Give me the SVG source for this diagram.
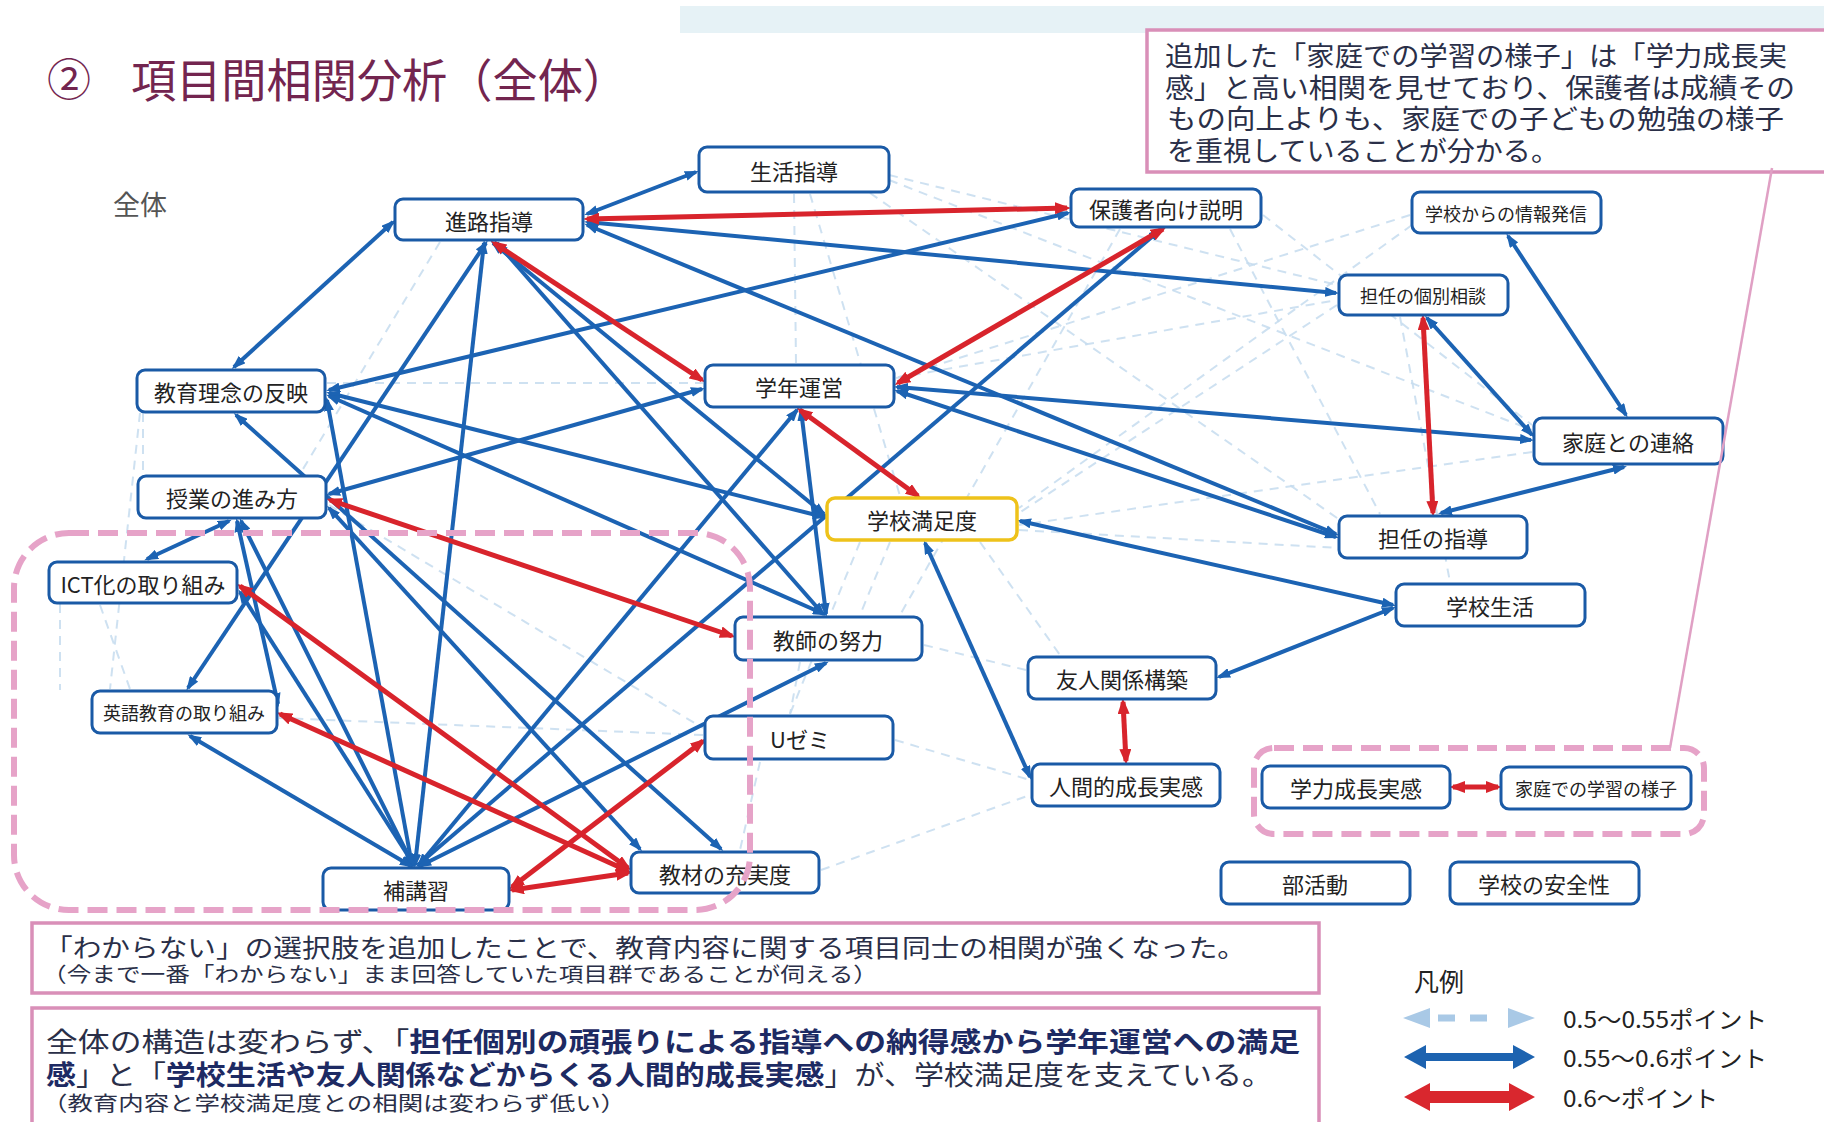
<svg xmlns="http://www.w3.org/2000/svg" width="1824" height="1122" viewBox="0 0 1824 1122">
<defs>
<style>
.jp{font-family:"Noto Sans CJK JP","Noto Sans",sans-serif}
.nb{fill:#fff;stroke:#1a5aa6;stroke-width:3}
.ny{fill:#fff;stroke:#eec21a;stroke-width:3.5}
.nt{font-family:"Noto Sans CJK JP","Noto Sans",sans-serif;font-size:22px;fill:#222;text-anchor:middle;dominant-baseline:central}
.ns{font-size:18px}
.b{stroke:#1c63b3;stroke-width:4;fill:none;marker-start:url(#mb);marker-end:url(#mb)}
.r{stroke:#d8242c;stroke-width:5;fill:none;marker-start:url(#mr);marker-end:url(#mr)}
.f{stroke:#c6dcef;stroke-width:2;stroke-dasharray:9 7;fill:none;opacity:0.85}
.pd{fill:none;stroke:#e6a3c8;stroke-width:6;stroke-dasharray:20 9}
.pb{fill:#fff;stroke:#d98fb8;stroke-width:3.5}
.tx{font-family:"Liberation Sans","Noto Sans CJK JP",sans-serif;fill:#2a2f48;dominant-baseline:central}
.bd{font-weight:700;fill:#1d2a63}
</style>
<marker id="mb" viewBox="0 0 14 10" refX="11" refY="5" markerWidth="14" markerHeight="10" markerUnits="userSpaceOnUse" orient="auto-start-reverse"><path d="M0,0 L14,5 L0,10 z" fill="#1c63b3"/></marker>
<marker id="mr" viewBox="0 0 16 12" refX="12" refY="6" markerWidth="16" markerHeight="12" markerUnits="userSpaceOnUse" orient="auto-start-reverse"><path d="M0,0 L16,6 L0,12 z" fill="#d8242c"/></marker>
</defs>
<rect x="0" y="0" width="1824" height="1122" fill="#fff"/>
<rect x="680" y="6" width="1144" height="27" fill="#e6f2f6"/>

<g id="title">
<text class="jp" x="47" y="77" font-size="44" fill="#73254f" dominant-baseline="central">②</text>
<text class="jp" x="131" y="77" font-size="46" fill="#73254f" dominant-baseline="central" textLength="497" lengthAdjust="spacingAndGlyphs">項目間相関分析（全体）</text>
<text class="jp" x="113" y="203" font-size="27" fill="#555" dominant-baseline="central">全体</text>
</g>

<g id="note-top">
<rect class="pb" x="1147" y="30" width="690" height="142"/>
<text class="tx" font-size="27" x="1165" y="57" textLength="622" lengthAdjust="spacingAndGlyphs">追加した「家庭での学習の様子」は「学力成長実</text>
<text class="tx" font-size="27" x="1165" y="88.5" textLength="630" lengthAdjust="spacingAndGlyphs">感」と高い相関を見せており、保護者は成績その</text>
<text class="tx" font-size="27" x="1167" y="120" textLength="617" lengthAdjust="spacingAndGlyphs">もの向上よりも、家庭での子どもの勉強の様子</text>
<text class="tx" font-size="27" x="1167" y="151.5" textLength="392" lengthAdjust="spacingAndGlyphs">を重視していることが分かる。</text>
</g>

<g id="note-bottom1">
<rect class="pb" x="32" y="923" width="1287" height="70"/>
<text class="tx" font-size="25" x="44" y="948" textLength="1202" lengthAdjust="spacingAndGlyphs">「わからない」の選択肢を追加したことで、教育内容に関する項目同士の相関が強くなった。</text>
<text class="tx" font-size="20.5" x="42" y="974" textLength="836" lengthAdjust="spacingAndGlyphs">（今まで一番「わからない」まま回答していた項目群であることが伺える）</text>
</g>

<g id="note-bottom2">
<rect class="pb" x="32" y="1008" width="1287" height="130"/>
<text class="tx" font-size="27" x="46" y="1043" textLength="1254" lengthAdjust="spacingAndGlyphs">全体の構造は変わらず、「<tspan class="bd">担任個別の頑張りによる指導への納得感から学年運営への満足</tspan></text>
<text class="tx" font-size="27" x="46" y="1076" textLength="1226" lengthAdjust="spacingAndGlyphs"><tspan class="bd">感</tspan>」と「<tspan class="bd">学校生活や友人関係などからくる人間的成長実感</tspan>」が、学校満足度を支えている。</text>
<text class="tx" font-size="20.5" x="42" y="1103" textLength="584" lengthAdjust="spacingAndGlyphs">（教育内容と学校満足度との相関は変わらず低い）</text>
</g>

<g id="connectors">
<g id="weak">
<path class="f" d="M794,194 L796,363"/>
<path class="f" d="M889,180 L1532,430"/>
<path class="f" d="M870,193 L1340,520"/>
<path class="f" d="M889,175 L1337,285"/>
<path class="f" d="M810,194 L900,496"/>
<path class="f" d="M143,413 L143,475"/>
<path class="f" d="M327,383 L703,383"/>
<path class="f" d="M1410,215 L896,378"/>
<path class="f" d="M1412,225 L1019,508"/>
<path class="f" d="M1263,215 L1532,425"/>
<path class="f" d="M1230,229 L1380,514"/>
<path class="f" d="M1337,305 L1019,513"/>
<path class="f" d="M1532,452 L1019,525"/>
<path class="f" d="M1120,229 L900,615"/>
<path class="f" d="M890,542 L860,615"/>
<path class="f" d="M924,645 L1026,670"/>
<path class="f" d="M703,735 L279,718"/>
<path class="f" d="M760,762 L740,850"/>
<path class="f" d="M895,740 L1030,780"/>
<path class="f" d="M100,605 L130,689"/>
<path class="f" d="M140,413 L110,689"/>
<path class="f" d="M800,662 L790,714"/>
<path class="f" d="M329,505 L703,728"/>
<path class="f" d="M1400,317 L1450,582"/>
<path class="f" d="M896,378 L1337,300"/>
<path class="f" d="M860,542 L790,714"/>
<path class="f" d="M980,542 L1060,655"/>
<path class="f" d="M440,242 L300,474"/>
<path class="f" d="M821,870 L1030,795"/>
<path class="f" d="M1019,530 L1339,548"/>
<path class="f" d="M60,604 L60,690"/>
</g>
<g id="mid">
<path class="b" d="M587,214 L696,172"/>
<path class="b" d="M393,222 L234,367"/>
<path class="b" d="M587,222 L1336,293"/>
<path class="b" d="M587,225 L1336,534"/>
<path class="b" d="M329,390 L1068,213"/>
<path class="b" d="M897,387 L1531,440"/>
<path class="b" d="M897,391 L1336,537"/>
<path class="b" d="M1427,318 L1532,435"/>
<path class="b" d="M1508,236 L1626,415"/>
<path class="b" d="M1624,467 L1441,513"/>
<path class="b" d="M1020,521 L1393,605"/>
<path class="b" d="M1393,608 L1219,677"/>
<path class="b" d="M925,543 L1030,777"/>
<path class="b" d="M1160,230 L418,865"/>
<path class="b" d="M229,521 L147,559"/>
<path class="b" d="M237,521 L278,704"/>
<path class="b" d="M241,521 L413,865"/>
<path class="b" d="M486,243 L188,688"/>
<path class="b" d="M484,243 L415,865"/>
<path class="b" d="M493,243 L824,514"/>
<path class="b" d="M497,243 L823,614"/>
<path class="b" d="M329,393 L824,517"/>
<path class="b" d="M329,396 L824,614"/>
<path class="b" d="M327,400 L412,865"/>
<path class="b" d="M236,415 L721,849"/>
<path class="b" d="M329,508 L640,849"/>
<path class="b" d="M329,494 L702,389"/>
<path class="b" d="M797,410 L419,865"/>
<path class="b" d="M801,410 L826,614"/>
<path class="b" d="M826,663 L420,866"/>
<path class="b" d="M240,592 L414,865"/>
<path class="b" d="M190,736 L411,866"/>
</g>
<g id="strong">
<path class="r" d="M587,219 L1067,208"/>
<path class="r" d="M494,243 L702,380"/>
<path class="r" d="M1163,229 L898,383"/>
<path class="r" d="M800,410 L918,496"/>
<path class="r" d="M1423,318 L1433,513"/>
<path class="r" d="M1123,702 L1126,761"/>
<path class="r" d="M1453,787 L1498,787"/>
<path class="r" d="M330,500 L732,636"/>
<path class="r" d="M240,586 L628,868"/>
<path class="r" d="M280,714 L628,871"/>
<path class="r" d="M512,887 L703,741"/>
<path class="r" d="M512,890 L628,873"/>
</g>
</g>

<g id="n-seikatsu"><rect class="nb" x="699" y="147" width="190" height="45" rx="8"/><text class="nt" x="794" y="170">生活指導</text></g>
<g id="n-shinro"><rect class="nb" x="395" y="199" width="188" height="41" rx="8"/><text class="nt" x="489" y="220">進路指導</text></g>
<g id="n-hogosha"><rect class="nb" x="1071" y="189" width="190" height="38" rx="8"/><text class="nt" x="1166" y="208">保護者向け説明</text></g>
<g id="n-joho"><rect class="nb" x="1412" y="192" width="189" height="41" rx="8"/><text class="nt ns" x="1506" y="213">学校からの情報発信</text></g>
<g id="n-kobetsu"><rect class="nb" x="1339" y="275" width="169" height="40" rx="8"/><text class="nt ns" x="1423" y="295">担任の個別相談</text></g>
<g id="n-rinen"><rect class="nb" x="137" y="370" width="188" height="42" rx="8"/><text class="nt" x="231" y="391">教育理念の反映</text></g>
<g id="n-gakunen"><rect class="nb" x="705" y="365" width="189" height="42" rx="8"/><text class="nt" x="799" y="386">学年運営</text></g>
<g id="n-katei"><rect class="nb" x="1534" y="418" width="189" height="46" rx="8"/><text class="nt" x="1628" y="441">家庭との連絡</text></g>
<g id="n-jugyo"><rect class="nb" x="138" y="476" width="188" height="42" rx="8"/><text class="nt" x="232" y="497">授業の進み方</text></g>
<g id="n-manzoku"><rect class="ny" x="827" y="498" width="190" height="42" rx="8"/><text class="nt" x="922" y="519">学校満足度</text></g>
<g id="n-shido"><rect class="nb" x="1339" y="516" width="188" height="42" rx="8"/><text class="nt" x="1433" y="537">担任の指導</text></g>
<g id="n-ict"><rect class="nb" x="49" y="562" width="188" height="41" rx="8"/><text class="nt" x="143" y="583">ICT化の取り組み</text></g>
<g id="n-gakko"><rect class="nb" x="1396" y="584" width="189" height="42" rx="8"/><text class="nt" x="1490" y="605">学校生活</text></g>
<g id="n-kyoshi"><rect class="nb" x="735" y="617" width="187" height="43" rx="8"/><text class="nt" x="828" y="639">教師の努力</text></g>
<g id="n-yujin"><rect class="nb" x="1028" y="657" width="188" height="42" rx="8"/><text class="nt" x="1122" y="678">友人関係構築</text></g>
<g id="n-eigo"><rect class="nb" x="92" y="691" width="185" height="42" rx="8"/><text class="nt ns" x="184" y="712">英語教育の取り組み</text></g>
<g id="n-uzemi"><rect class="nb" x="705" y="716" width="188" height="43" rx="8"/><text class="nt" x="800" y="738">Uゼミ</text></g>
<g id="n-ningen"><rect class="nb" x="1032" y="764" width="188" height="42" rx="8"/><text class="nt" x="1126" y="785">人間的成長実感</text></g>
<g id="n-gakuryoku"><rect class="nb" x="1262" y="766" width="188" height="42" rx="8"/><text class="nt" x="1356" y="787">学力成長実感</text></g>
<g id="n-kateigaku"><rect class="nb" x="1501" y="767" width="190" height="42" rx="8"/><text class="nt ns" x="1596" y="788">家庭での学習の様子</text></g>
<g id="n-hoko"><rect class="nb" x="323" y="868" width="186" height="42" rx="8"/><text class="nt" x="416" y="889">補講習</text></g>
<g id="n-kyozai"><rect class="nb" x="631" y="852" width="188" height="41" rx="8"/><text class="nt" x="725" y="873">教材の充実度</text></g>
<g id="n-bukatsu"><rect class="nb" x="1221" y="862" width="189" height="42" rx="8"/><text class="nt" x="1315" y="883">部活動</text></g>
<g id="n-anzen"><rect class="nb" x="1450" y="862" width="189" height="42" rx="8"/><text class="nt" x="1544" y="883">学校の安全性</text></g>

<g id="groups">
<rect class="pd" x="14" y="533" width="736" height="377" rx="55"/>
<rect class="pd" x="1254" y="748" width="450" height="86" rx="20"/>
<path d="M1772,168 L1670,748" stroke="#e0a0c4" stroke-width="2.5" fill="none"/>
</g>

<g id="legend">
<text class="jp" x="1414" y="980" font-size="25" fill="#222" dominant-baseline="central">凡例</text>
<polygon points="1403,1018 1430,1008 1430,1028" fill="#a9c9e6"/>
<path d="M1438,1018 L1502,1018" stroke="#a9c9e6" stroke-width="7" stroke-dasharray="17 15"/>
<polygon points="1535,1018 1508,1008 1508,1028" fill="#a9c9e6"/>
<polygon points="1404,1057 1426,1045 1426,1053 1513,1053 1513,1045 1535,1057 1513,1069 1513,1061 1426,1061 1426,1069" fill="#1d63b0"/>
<polygon points="1404,1097 1430,1083 1430,1091 1509,1091 1509,1083 1535,1097 1509,1111 1509,1103 1430,1103 1430,1111" fill="#d9272e"/>
<text class="jp" x="1563" y="1018" font-size="23" fill="#222" dominant-baseline="central" textLength="204" lengthAdjust="spacingAndGlyphs">0.5〜0.55ポイント</text>
<text class="jp" x="1563" y="1057" font-size="23" fill="#222" dominant-baseline="central" textLength="204" lengthAdjust="spacingAndGlyphs">0.55〜0.6ポイント</text>
<text class="jp" x="1563" y="1097" font-size="23" fill="#222" dominant-baseline="central" textLength="155" lengthAdjust="spacingAndGlyphs">0.6〜ポイント</text>
</g>
</svg>
